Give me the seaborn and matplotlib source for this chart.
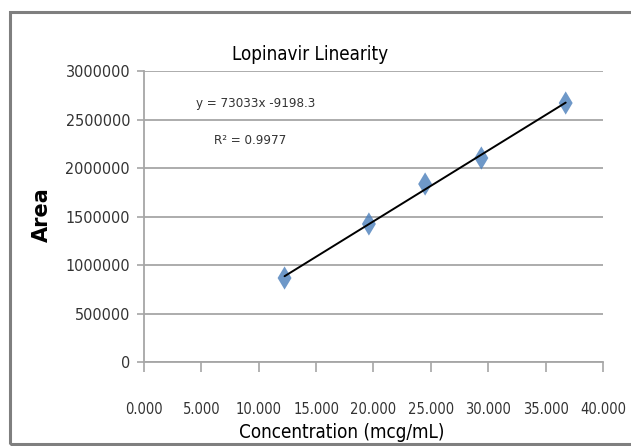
import seaborn as sns
import pandas as pd
from matplotlib import pyplot as plt
from matplotlib import font_manager
from matplotlib.patches import Rectangle

# Lopinavir linearity data
conc = [12.25, 19.6, 24.5, 29.4, 36.75]
area = [866000, 1423000, 1835000, 2103000, 2670000]
xticks = [0, 5, 10, 15, 20, 25, 30, 35, 40]
yticks = [0, 500000, 1000000, 1500000, 2000000, 2500000, 3000000]

df = pd.DataFrame({"conc": conc, "area": area})

sns.set_style("white")

# the chart uses a narrow font; take a condensed face if one is installed
narrow = None
for f in font_manager.fontManager.ttflist:
    if f.weight in (400, "normal", "regular") and f.style == "normal":
        if f.name in ("Liberation Sans Narrow", "Roboto Condensed", "Open Sans Condensed") \
                or (f.name == "DejaVu Sans" and "condensed" in str(f.stretch)):
            narrow = f.fname
            break
if narrow:
    fam = font_manager.FontProperties(fname=narrow).get_name()
    plt.rcParams["font.family"] = [fam, "DejaVu Sans"]
    if "condensed" in fam.lower() or "narrow" in fam.lower():
        plt.rcParams["font.stretch"] = "normal"
    else:
        plt.rcParams["font.stretch"] = "condensed"
    scale = 1.0
else:
    plt.rcParams["font.family"] = ["Roboto", "DejaVu Sans"]
    scale = 0.85

fig = plt.figure(figsize=(6.31, 4.46), dpi=100)
ax = fig.add_axes([0.2282, 0.1883, 0.7274, 0.6525])

# grey frame round the chart area
fig.patches.append(Rectangle((0.016, 0.005), 1.2, 0.968, transform=fig.transFigure,
                             fill=False, edgecolor="#7f7f7f", lw=2.2, zorder=0))

sns.regplot(data=df, x="conc", y="area", ax=ax, ci=None, marker="d",
            scatter_kws={"s": 140, "color": "#4a7ebb", "edgecolor": "none", "zorder": 3},
            line_kws={"color": "black", "lw": 1.4, "zorder": 4})

ax.set_xlim(0, 40)
ax.set_ylim(0, 3000000)
ax.set_xticks(xticks)
ax.set_xticklabels([f"{v:.3f}" for v in xticks])
ax.set_yticks(yticks)
ax.set_yticklabels([str(v) for v in yticks])
ax.yaxis.grid(True, color="#a6a6a6", lw=1.3)
ax.set_axisbelow(True)
ax.set_xlabel("")
ax.set_ylabel("")

for s in ["top", "right"]:
    ax.spines[s].set_visible(False)
for s in ["left", "bottom"]:
    ax.spines[s].set_color("#a6a6a6")
    ax.spines[s].set_linewidth(1.3)

ax.tick_params(axis="x", direction="out", length=7, width=1.2, color="#a6a6a6",
               labelsize=10.5 * scale, labelcolor="#333333", pad=22, bottom=True)
ax.tick_params(axis="y", direction="out", length=5, width=1.2, color="#a6a6a6",
               labelsize=11.5 * scale, labelcolor="#333333", pad=5, left=True)

fig.text(310 / 631, 1 - 55 / 446, "Lopinavir Linearity", ha="center", va="center",
         fontsize=13.5 * scale, color="black")
fig.text(256 / 631, 1 - 104 / 446, "y = 73033x -9198.3", ha="center", va="center",
         fontsize=9.5 * scale, color="#333333")
fig.text(250 / 631, 1 - 140 / 446, "R² = 0.9977", ha="center", va="center",
         fontsize=9.5 * scale, color="#333333")
fig.text(342 / 631, 1 - 432 / 446, "Concentration (mcg/mL)", ha="center", va="center",
         fontsize=13.5 * scale, color="black")
fig.text(42 / 631, 1 - 215 / 446, "Area", ha="center", va="center", rotation=90,
         fontsize=15, fontweight="bold", family="DejaVu Sans", stretch="normal",
         color="black")

fig.savefig("out.png", dpi=100)
